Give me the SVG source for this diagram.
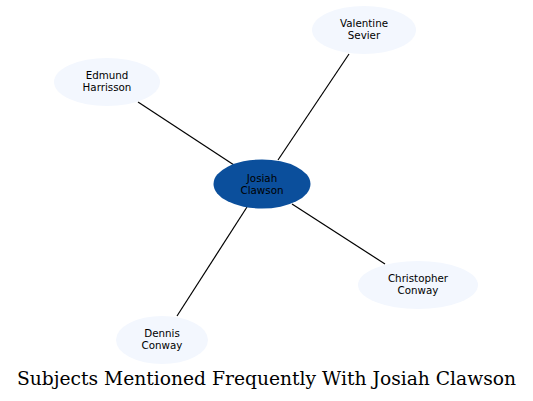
<svg xmlns="http://www.w3.org/2000/svg" width="533" height="401" viewBox="0 0 533 401">
<style>
.outer ellipse{fill:#f3f7fe;stroke:none}
.center ellipse{fill:#0b4f9c;stroke:none}
.lbl{font-family:"DejaVu Sans",sans-serif;font-size:10.3px;fill:#000;text-anchor:middle}
.edges line{stroke:#000;stroke-width:1.2}
.title{font-family:"DejaVu Serif",serif;font-size:18.7px;fill:#000;text-anchor:middle}
</style>
<rect width="533" height="401" fill="#fff"/>
<g class="edges">
<line x1="138" y1="102" x2="234" y2="165"/>
<line x1="349" y1="54" x2="278" y2="160"/>
<line x1="385" y1="264" x2="292" y2="204"/>
<line x1="177" y1="316" x2="247" y2="207"/>
</g>
<g id="josiah" class="center">
<ellipse cx="262" cy="184" rx="48.5" ry="24.5"/>
<text class="lbl" x="262" y="181.5">Josiah</text>
<text class="lbl" x="262" y="193.5">Clawson</text>
</g>
<g id="valentine" class="outer">
<ellipse cx="364" cy="30" rx="52" ry="24"/>
<text class="lbl" x="364" y="26.5">Valentine</text>
<text class="lbl" x="364" y="38.5">Sevier</text>
</g>
<g id="edmund" class="outer">
<ellipse cx="107" cy="82" rx="53" ry="24"/>
<text class="lbl" x="107" y="78.5">Edmund</text>
<text class="lbl" x="107" y="90.5">Harrisson</text>
</g>
<g id="christopher" class="outer">
<ellipse cx="418" cy="285" rx="60" ry="24"/>
<text class="lbl" x="418" y="281.5">Christopher</text>
<text class="lbl" x="418" y="293.5">Conway</text>
</g>
<g id="dennis" class="outer">
<ellipse cx="162" cy="340" rx="46" ry="24"/>
<text class="lbl" x="162" y="336.5">Dennis</text>
<text class="lbl" x="162" y="348.5">Conway</text>
</g>
<text class="title" x="266.5" y="385">Subjects Mentioned Frequently With Josiah Clawson</text>
</svg>
